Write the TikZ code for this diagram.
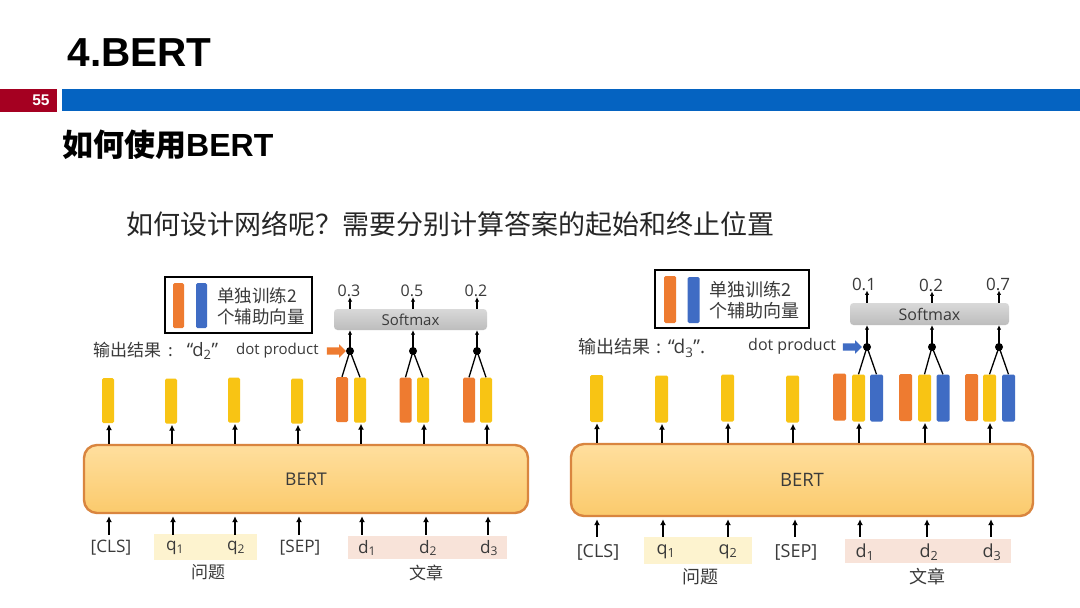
\documentclass[tikz,border=0pt]{standalone}
\usepackage{fontspec}
\setmainfont{Open Sans}
\newfontfamily\cjk{Noto Sans CJK SC}
\newfontfamily\hdr{Liberation Sans}
\usetikzlibrary{arrows.meta,shapes.arrows}
\definecolor{ink}{HTML}{3A3A3A}
\definecolor{ybar}{HTML}{F8C414}
\definecolor{obar}{HTML}{EE7B30}
\definecolor{bbar}{HTML}{3F6CC4}
\definecolor{hblue}{HTML}{0563C1}
\definecolor{hred}{HTML}{A50021}
\definecolor{bertedge}{HTML}{D9853F}
\definecolor{berttop}{HTML}{FFDF9E}
\definecolor{bertbot}{HTML}{FBCA6C}
\definecolor{qband}{HTML}{FDF3CF}
\definecolor{dband}{HTML}{F8E3D9}
\newcommand{\fsz}[1]{\fontsize{#1}{#1}\selectfont}
\tikzset{
  x=1pt,y=-1pt,
  headline/.style={inner sep=0,anchor=west,text=black},
  barbase/.style={inner sep=0,rounded corners=1.5pt,draw=none,minimum width=#1},
  lY/.style={barbase=12,minimum height=45,fill=ybar},
  lO/.style={barbase=12,minimum height=45,fill=obar},
  lB/.style={barbase=12,minimum height=45,fill=bbar},
  rY/.style={barbase=13,minimum height=47,fill=ybar},
  rO/.style={barbase=13,minimum height=47,fill=obar},
  rB/.style={barbase=13,minimum height=47,fill=bbar},
  bertbox/.style={inner sep=0,rounded corners=13pt,draw=bertedge,line width=2.4pt,top color=berttop,bottom color=bertbot,text=ink,font=\fsz{17.5}},
  softbox/.style={inner sep=0,rounded corners=3.5pt,top color=black!15,bottom color=black!26,text=ink,font=\fsz{15}},
  legendbox/.style={inner sep=0,draw=black,line width=1.6pt,fill=white},
  lbl/.style={inner sep=0,text=ink,minimum height=26,font=\fsz{17.2}},
  rlbl/.style={inner sep=0,text=ink,minimum height=30,font=\fsz{18}},
  cn/.style={inner sep=0,text=ink,font=\cjk\fsz{17}},
  num/.style={inner sep=0,text=ink,font=\fsz{16}},
  dotp/.style={circle,fill=black,inner sep=0,minimum size=8},
  arr/.style={-{Latex[length=6pt,width=6pt]},line width=1.8pt,black},
  sarr/.style={-{Latex[length=4.5pt,width=4.5pt]},line width=1.2pt,black},
  wire/.style={line width=1.3pt,black},
  fat/.style={single arrow,inner sep=0,minimum height=19,single arrow head extend=3,single arrow head indent=0pt,fill=#1,draw=none}
}
\begin{document}
\begin{tikzpicture}
\useasboundingbox (0,0) rectangle (1080,608);
\fill[white] (0,0) rectangle (1080,608);

% header
\node[headline,font=\hdr\bfseries\fsz{40.5}] (title) at (67.5,53) {4.BERT};
\fill[hred] (0,89) rectangle (57,112);
\fill[hblue] (62,89) rectangle (1080,111);
\node[inner sep=0,text=white,font=\hdr\bfseries\fsz{15.5}] (page) at (41,100) {55};
\node[headline,font=\cjk\bfseries\fsz{31}] (sub) at (62,145) {如何使用{\hdr\fsz{32}BERT}};
\node[headline,text=black!85,font=\cjk\fsz{27}] (ques) at (126,224) {如何设计网络呢？需要分别计算答案的起始和终止位置};

% ---------- left diagram ----------
\node[bertbox,minimum width=444,minimum height=68] (lbert) at (306,479) {BERT};
% bands
\node[inner sep=0,fill=qband,minimum width=103,minimum height=26] (lqb) at (205.5,547) {};
\node[inner sep=0,fill=dband,minimum width=159,minimum height=23] (ldb) at (427.5,547.5) {};
% tokens
\node[lbl] (lcls) at (111,548) {[CLS]};
\node[lbl] (lq1) at (175,548) {q\textsubscript{1}};
\node[lbl] (lq2) at (236,548) {q\textsubscript{2}};
\node[lbl] (lsep) at (300,548) {[SEP]};
\node[lbl] (ld1) at (367,548) {d\textsubscript{1}};
\node[lbl] (ld2) at (428,548) {d\textsubscript{2}};
\node[lbl] (ld3) at (489,548) {d\textsubscript{3}};
\node[cn] (lwt) at (208,572.5) {问题};
\node[cn] (lwz) at (426,573) {文章};
\foreach \n/\s in {lcls/-2,lq1/-2,lq2/-1,lsep/-1,ld1/-5,ld2/-2,ld3/-1}
  \draw[arr,shorten >=2pt] ([xshift=\s]\n.north) -- ([xshift=\s]\n.north |- lbert.south);
% bars
\node[lY] (ly1) at (108,400.5) {};
\node[lY] (ly2) at (171,401) {};
\node[lY] (ly3) at (234,400) {};
\node[lY] (ly4) at (297,401) {};
\node[lO] (lo5) at (342,399.5) {};
\node[lY] (ly5) at (360,400) {};
\node[lO] (lo6) at (405.5,400) {};
\node[lY] (ly6) at (423,400) {};
\node[lO] (lo7) at (469,400) {};
\node[lY] (ly7) at (486,400) {};
\foreach \n in {1,...,7}
  \draw[arr,shorten >=1pt] ([xshift=1]lbert.north -| ly\n.south) -- ([xshift=1]ly\n.south);
% softmax
\node[softbox,minimum width=153,minimum height=21] (lsoft) at (410.5,319.5) {Softmax};
\node[num] (ln1) at (349,291) {0.3};
\node[num] (ln2) at (412,291) {0.5};
\node[num] (ln3) at (476,291) {0.2};
\node[dotp] (ldot1) at (350,351) {};
\node[dotp] (ldot2) at (413,351) {};
\node[dotp] (ldot3) at (477,351) {};
\foreach \d/\o/\y/\t in {ldot1/lo5/ly5/ln1,ldot2/lo6/ly6/ln2,ldot3/lo7/ly7/ln3}{
  \draw[wire] (\d.center) -- (\o.north);
  \draw[wire] (\d.center) -- (\y.north);
  \draw[sarr] (\d.center) -- (\d.center |- lsoft.south);
  \draw[sarr] (\d.center |- lsoft.north) -- (\d.center |- \t.south);
}
% legend
\node[legendbox,minimum width=147,minimum height=56] (lleg) at (238.5,305) {};
\node[barbase=11,minimum height=45,fill=obar] (llo) at (178.5,305.5) {};
\node[barbase=11,minimum height=45,fill=bbar] (llb) at (201.5,305.5) {};
\node[cn,anchor=west,font=\cjk\fsz{17.5}] (llt1) at (217,295.5) {单独训练2};
\node[cn,anchor=west,font=\cjk\fsz{17.5}] (llt2) at (217,316.5) {个辅助向量};
% result
\node[inner sep=0,anchor=west,text=ink,font=\cjk\fsz{17}] (lres) at (93,351) {输出结果\hspace{7pt}:\hspace{14pt}{\fontspec{Open Sans}\fsz{18.5}“d\textsubscript{2}”}};
\node[inner sep=0,anchor=west,text=ink,font=\fsz{15}] (ldp) at (236,351) {dot product};
\node[fat=obar] (lfat) at (334.5,351) {\rule{0pt}{7pt}};

% ---------- right diagram ----------
\node[bertbox,minimum width=462,minimum height=72,font=\fsz{18.5}] (rbert) at (802,480) {BERT};
\node[inner sep=0,fill=qband,minimum width=108,minimum height=27] (rqb) at (698,550.5) {};
\node[inner sep=0,fill=dband,minimum width=166,minimum height=24] (rdb) at (928,551) {};
\node[rlbl] (rcls) at (598,552) {[CLS]};
\node[rlbl] (rq1) at (666,552) {q\textsubscript{1}};
\node[rlbl] (rq2) at (728,552) {q\textsubscript{2}};
\node[rlbl] (rsep) at (796,552) {[SEP]};
\node[rlbl] (rd1) at (865,552) {d\textsubscript{1}};
\node[rlbl] (rd2) at (929,552) {d\textsubscript{2}};
\node[rlbl] (rd3) at (992,552) {d\textsubscript{3}};
\node[cn,font=\cjk\fsz{18}] (rwt) at (700,577) {问题};
\node[cn,font=\cjk\fsz{18}] (rwz) at (927,577) {文章};
\foreach \n/\s in {rcls/-1,rq1/-3,rq2/0,rsep/-1,rd1/-5,rd2/-2,rd3/-1}
  \draw[arr,shorten >=2pt] ([xshift=\s]\n.north) -- ([xshift=\s]\n.north |- rbert.south);
\node[rY] (ry1) at (596.5,398.5) {};
\node[rY] (ry2) at (661.5,399) {};
\node[rY] (ry3) at (727.5,398) {};
\node[rY] (ry4) at (792.5,399) {};
\node[rO] (ro5) at (839.5,397) {};
\node[rY] (ry5) at (858.5,398) {};
\node[rB] (rb5) at (876.5,398) {};
\node[rO] (ro6) at (905.5,397.5) {};
\node[rY] (ry6) at (924.5,398) {};
\node[rB] (rb6) at (943,398) {};
\node[rO] (ro7) at (971.5,397.5) {};
\node[rY] (ry7) at (989.5,398) {};
\node[rB] (rb7) at (1008.5,398) {};
\foreach \n in {1,...,7}
  \draw[arr,shorten >=1pt] ([xshift=0.5]rbert.north -| ry\n.south) -- ([xshift=0.5]ry\n.south);
\node[softbox,minimum width=159,minimum height=22,font=\fsz{16}] (rsoft) at (929.5,314) {Softmax};
\node[num,font=\fsz{17}] (rn1) at (864,284) {0.1};
\node[num,font=\fsz{17}] (rn2) at (931,285) {0.2};
\node[num,font=\fsz{17}] (rn3) at (998,284) {0.7};
\node[dotp] (rdot1) at (867,347) {};
\node[dotp] (rdot2) at (932,347) {};
\node[dotp] (rdot3) at (999,347) {};
\foreach \d/\y/\b/\t in {rdot1/ry5/rb5/rn1,rdot2/ry6/rb6/rn2,rdot3/ry7/rb7/rn3}{
  \draw[wire] (\d.center) -- (\y.north);
  \draw[wire] (\d.center) -- (\b.north);
  \draw[sarr] (\d.center) -- (\d.center |- rsoft.south);
  \draw[sarr] (\d.center |- rsoft.north) -- (\d.center |- \t.south);
}
\node[legendbox,minimum width=154,minimum height=58] (rleg) at (732,299) {};
\node[barbase=12,minimum height=47,fill=obar] (rlo) at (670,299.5) {};
\node[barbase=12,minimum height=46,fill=bbar] (rlb) at (693.5,300) {};
\node[cn,anchor=west,font=\cjk\fsz{18}] (rlt1) at (709,289.5) {单独训练2};
\node[cn,anchor=west,font=\cjk\fsz{18}] (rlt2) at (709,310.5) {个辅助向量};
\node[inner sep=0,anchor=west,text=ink,font=\cjk\fsz{18}] (rres) at (578,348) {输出结果\hspace{6pt}:\hspace{7pt}{\fontspec{Open Sans}\fsz{19}“d\textsubscript{3}”.}};
\node[inner sep=0,anchor=west,text=ink,font=\fsz{16}] (rdp) at (748,346) {dot product};
\node[fat=bbar] (rfat) at (850.5,347) {\rule{0pt}{7pt}};
\end{tikzpicture}
\end{document}
